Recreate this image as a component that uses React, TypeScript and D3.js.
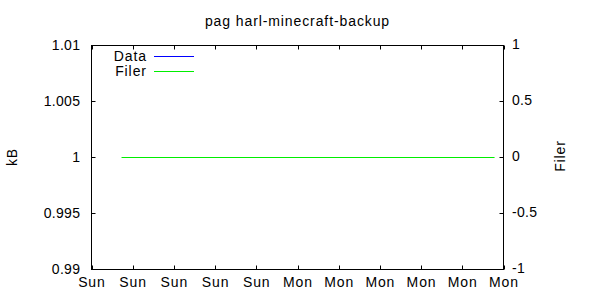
import React from "react";
import * as d3 from "d3";

const title = "pag harl-minecraft-backup";
const xDomain = ["2024-01-07T04:00:00Z", "2024-01-08T20:00:00Z"];
const xTickHours = 4;
const leftTicks = [0.99, 0.995, 1, 1.005, 1.01];
const leftTickLabels = ["0.99", "0.995", "1", "1.005", "1.01"];
const rightTicks = [-1, -0.5, 0, 0.5, 1];
const rightTickLabels = ["-1", "-0.5", "0", "0.5", "1"];
const dataTimes: string[] = [];
const dataValues: number[] = [];
const filerTimes = ["2024-01-07T06:55:00Z", "2024-01-08T19:08:00Z"];
const filerValues = [0, 0];
const legendNames = ["Data", "Filer"];
const colors = ["#0000ff", "#00ee00"];

export default function App() {
  const W = 600, H = 300;
  const L = 91.5, R = 503.5, T = 45.5, B = 269.5;
  const font = "'Liberation Sans', Arial, sans-serif";
  const x = d3.scaleUtc().domain(xDomain.map((d) => new Date(d))).range([L, R]);
  const yL = d3.scaleLinear().domain([0.99, 1.01]).range([B, T]);
  const yR = d3.scaleLinear().domain([-1, 1]).range([B, T]);
  const xTicks = x.ticks(d3.utcHour.every(xTickHours)!);
  const fmt = d3.utcFormat("%a");
  const tk = 4;
  const lsText = 0.9;
  const lsNum = 0.3;

  const dataLine = d3
    .line<number>()
    .x((_, i) => x(new Date(dataTimes[i])))
    .y((v) => yL(v));
  const filerLine = d3
    .line<number>()
    .x((_, i) => x(new Date(filerTimes[i])))
    .y((v) => yR(v));

  return (
    <svg
      width={W}
      height={H}
      style={{ position: "absolute", left: 0, top: 0, background: "#fff" }}
      fontFamily={font}
      fontSize={14}
    >
      <rect x={0} y={0} width={W} height={H} fill="#fff" />
      <text x={(L + R) / 2} y={26} textAnchor="middle" letterSpacing={lsText}>{title}</text>
      {xTicks.map((t, i) => {
        const xx = Math.round(x(t)) + 0.5;
        return (
          <g key={"x" + i}>
            <line x1={xx} x2={xx} y1={B} y2={B - tk} stroke="#000" />
            <line x1={xx} x2={xx} y1={T} y2={T + tk} stroke="#000" />
            <text x={x(t) + lsText / 2} y={287} textAnchor="middle" letterSpacing={lsText}>{fmt(t)}</text>
          </g>
        );
      })}
      {leftTicks.map((v, i) => {
        const yy = Math.round(yL(v) - 0.5) + 0.5;
        return (
          <g key={"l" + i}>
            <line x1={L} x2={L + tk} y1={yy} y2={yy} stroke="#000" />
            <text x={80 + lsNum} y={yL(v) + 4} textAnchor="end" letterSpacing={lsNum}>{leftTickLabels[i]}</text>
          </g>
        );
      })}
      {rightTicks.map((v, i) => {
        const yy = Math.round(yR(v) - 0.5) + 0.5;
        return (
          <g key={"r" + i}>
            <line x1={R} x2={R - tk} y1={yy} y2={yy} stroke="#000" />
            <text x={512} y={yR(v) + 3} textAnchor="start" letterSpacing={lsNum}>{rightTickLabels[i]}</text>
          </g>
        );
      })}
      <rect x={L} y={T} width={R - L} height={B - T} fill="none" stroke="#000" />
      {dataValues.length > 0 && (
        <path d={dataLine(dataValues) || ""} fill="none" stroke={colors[0]} />
      )}
      <path d={filerLine(filerValues) || ""} fill="none" stroke={colors[1]} />
      {legendNames.map((n, i) => {
        const ly = 56.5 + i * 15;
        return (
          <g key={"lg" + i}>
            <text x={146 + lsText} y={ly + 4} textAnchor="end" letterSpacing={lsText}>{n}</text>
            <line x1={154} x2={194} y1={ly} y2={ly} stroke={colors[i]} />
          </g>
        );
      })}
      <text transform="translate(17,157) rotate(-90)" textAnchor="middle" letterSpacing={lsText}>kB</text>
      <text transform="translate(565,156) rotate(-90)" textAnchor="middle" letterSpacing={lsText}>Filer</text>
    </svg>
  );
}
